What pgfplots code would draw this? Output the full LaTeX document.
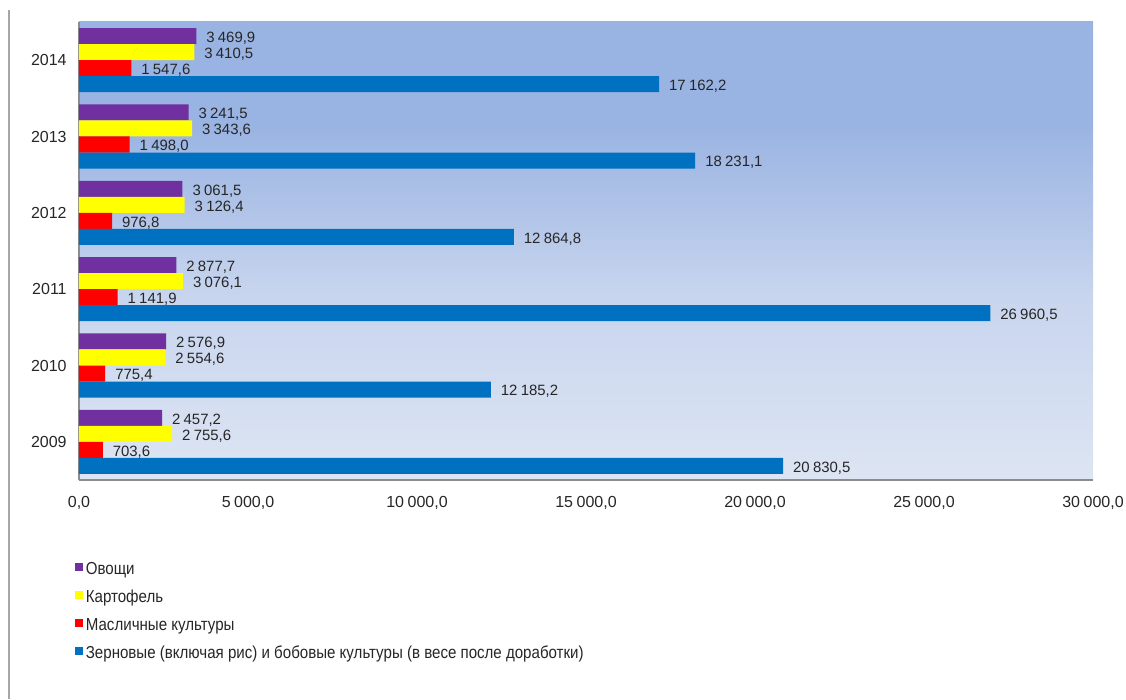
\documentclass[border=0pt]{standalone}
\usepackage{fontspec}
\setmainfont{Liberation Sans}
\newfontfamily\legfont[FakeStretch=0.87]{Liberation Sans}
\usepackage{pgfplots}
\pgfplotsset{compat=1.18}
\definecolor{cpurple}{HTML}{7030A0}
\definecolor{cyellow}{HTML}{FFFF00}
\definecolor{cred}{HTML}{FF0000}
\definecolor{cblue}{HTML}{0070C0}
\definecolor{bgdark}{HTML}{99B3E2}
\definecolor{bgmid}{HTML}{C8D5EE}
\definecolor{bglight}{HTML}{DDE5F3}
\pgfdeclareverticalshading{bgshade}{100bp}{color(0bp)=(bglight); color(25bp)=(bglight); color(45bp)=(bgmid); color(64bp)=(bgdark); color(100bp)=(bgdark)}
\begin{document}
\begin{tikzpicture}
\useasboundingbox (0,0) rectangle (844.5pt,524.25pt);
\draw[black!35, line width=0.9pt] (6.75pt,0) -- (6.75pt,516.75pt);
\begin{axis}[
  at={(59.25pt,164.25pt)}, anchor=south west,
  scale only axis, width=760.5pt, height=343.5pt,
  xmin=0, xmax=30000, ymin=-0.5, ymax=5.5,
  axis x line*=bottom, axis y line*=left,
  axis line style={-, black!45, line width=0.9pt},
  axis background/.style={shading=bgshade},
  major tick length=0pt,
  xtick={0,5000,10000,15000,20000,25000,30000},
  scaled x ticks=false,
  ytick={0,1,2,3,4,5},
  yticklabels={2009,2010,2011,2012,2013,2014},
  /pgf/number format/assume math mode=true,
  /pgf/number format/.cd, use comma, fixed, fixed zerofill, precision=1, 1000 sep={\hspace{0.22em}},
  /pgfplots/.cd,
  ticklabel style={font=\fontsize{12}{14}\selectfont, text=black!85},
  xticklabel style={yshift=-8.75pt},
  yticklabel style={xshift=-5.75pt},
  clip=false,
  xbar, bar width=0.21,
  nodes near coords,
  every node near coord/.append style={anchor=west, xshift=4pt, yshift=-1.5pt, font=\fontsize{11.2}{13}\selectfont, text=black!85},
  legend style={at={(-0.004,-0.179)}, anchor=north west, draw=none, fill=none, inner sep=0pt,
    row sep=9pt, font=\legfont\fontsize{13}{15}\selectfont, text=black!85,
    nodes={inner xsep=2pt, inner ysep=0pt, text height=9.5pt, text depth=2.5pt}},
  legend cell align=left,
  legend image code/.code={\fill[#1, draw=none] (0pt,-0.5pt) rectangle (6pt,5.5pt);},
]
\addplot[fill=cpurple, draw=none, bar shift=0.315] coordinates {(2457.2,0) (2576.9,1) (2877.7,2) (3061.5,3) (3241.5,4) (3469.9,5)};
\addplot[fill=cyellow, draw=none, bar shift=0.105] coordinates {(2755.6,0) (2554.6,1) (3076.1,2) (3126.4,3) (3343.6,4) (3410.5,5)};
\addplot[fill=cred, draw=none, bar shift=-0.105] coordinates {(703.6,0) (775.4,1) (1141.9,2) (976.8,3) (1498.0,4) (1547.6,5)};
\addplot[fill=cblue, draw=none, bar shift=-0.315] coordinates {(20830.5,0) (12185.2,1) (26960.5,2) (12864.8,3) (18231.1,4) (17162.2,5)};
\legend{Овощи, Картофель, Масличные культуры, Зерновые (включая рис) и бобовые культуры (в весе после доработки)}
\end{axis}
\end{tikzpicture}
\end{document}
